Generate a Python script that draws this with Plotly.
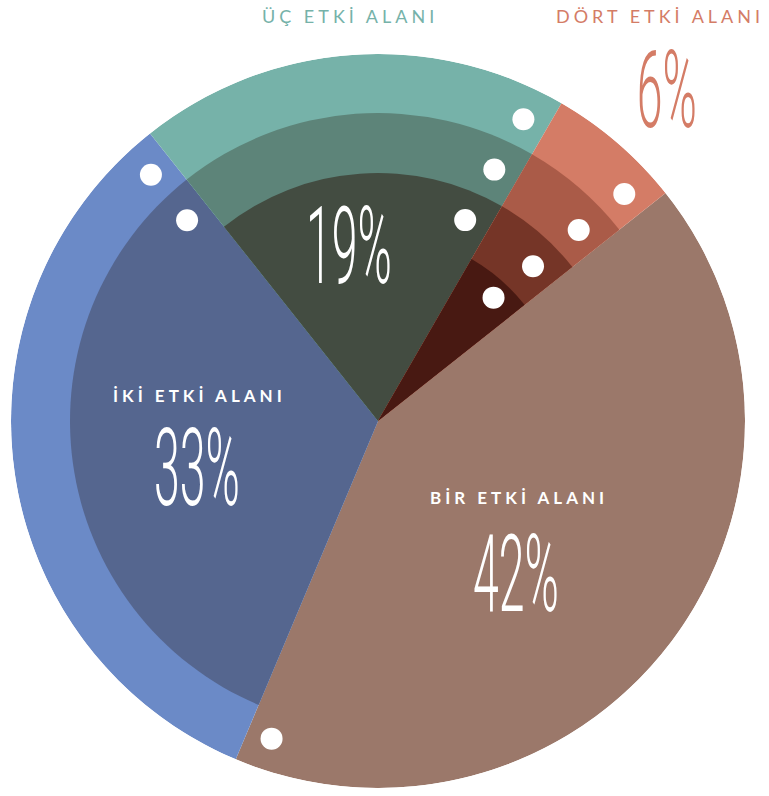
import math
import plotly.graph_objects as go

# ---- data ----
categories = ["BİR ETKİ ALANI", "İKİ ETKİ ALANI", "ÜÇ ETKİ ALANI", "DÖRT ETKİ ALANI"]
percent = [42, 33, 19, 6]
area_counts = [1, 2, 3, 4]
pct_labels = ["42%", "33%", "19%", "6%"]

# ---- style ----
layer_colors = [
    ["#9b786a"],
    ["#6b8ac7", "#55668f"],
    ["#76b2a9", "#5d8479", "#434c41"],
    ["#d47c66", "#aa5b48", "#753527", "#481912"],
]
LAYER_R = [367, 308, 248, 187]
DOT_OFFSET = [32, 31, 29, 18]
DOT_INSET_PX = 25
START_ANGLE = 51.6
W, H = 769, 796
CX, CY, R = 378, 421, 367

fig = go.Figure()
dot_r, dot_t = [], []
start = START_ANGLE
for i, (cat, p, n) in enumerate(zip(categories, percent, area_counts)):
    width = p * 3.6
    center = start + width / 2
    end = start + width
    for k in range(n):
        fig.add_trace(go.Barpolar(
            r=[LAYER_R[k]], theta=[center], width=[width],
            marker=dict(color=layer_colors[i][k], line=dict(width=0)),
            hoverinfo="skip", showlegend=False, name=cat))
        rd = LAYER_R[k] - DOT_OFFSET[k]
        dot_r.append(rd)
        dot_t.append(end - math.degrees(DOT_INSET_PX / rd))
    start = end

fig.add_trace(go.Scatterpolar(
    r=dot_r, theta=dot_t, mode="markers",
    marker=dict(size=22, color="white", line=dict(width=0)),
    hoverinfo="skip", showlegend=False))

def px(x):
    return x / W

def py(y):
    return 1 - y / H

label_font = "Lato, Open Sans, sans-serif"
num_font = dict(family="Roboto, sans-serif", size=108, color="white", weight=300)

annotations = [
    # top labels
    dict(x=px(350), y=py(16), text=categories[2],
         font=dict(family=label_font, size=18, color="#76b2a9")),
    dict(x=px(660), y=py(16), text=categories[3],
         font=dict(family=label_font, size=18, color="#d47c66")),
    dict(x=px(667), y=py(90), text=pct_labels[3],
         font=dict(num_font, color="#d47c66")),
    # inner labels
    dict(x=px(199), y=py(395), text=categories[1],
         font=dict(family=label_font, size=17, color="white", weight=700)),
    dict(x=px(197), y=py(468), text=pct_labels[1], font=num_font),
    dict(x=px(519), y=py(497), text=categories[0],
         font=dict(family=label_font, size=17, color="white", weight=700)),
    dict(x=px(516), y=py(574), text=pct_labels[0], font=num_font),
    dict(x=px(349), y=py(246), text=pct_labels[2], font=num_font),
]
for a in annotations:
    a.update(xref="paper", yref="paper", showarrow=False,
             xanchor="center", yanchor="middle")

fig.update_layout(
    width=W, height=H,
    margin=dict(l=0, r=0, t=0, b=0),
    paper_bgcolor="white", plot_bgcolor="white",
    showlegend=False,
    annotations=annotations,
    polar=dict(
        domain=dict(x=[(CX - R) / W, (CX + R) / W],
                    y=[(H - CY - R) / H, (H - CY + R) / H]),
        bgcolor="rgba(0,0,0,0)",
        barmode="overlay", bargap=0, hole=0,
        radialaxis=dict(visible=False, range=[0, R]),
        angularaxis=dict(visible=False, rotation=90, direction="clockwise"),
    ),
)

post = """
document.body.style.margin = '0';
var gd = document.getElementById('{plot_id}');
gd.querySelectorAll('text.annotation-text').forEach(function(t){
  var s = t.textContent;
  if (/%$/.test(s)) {
    var b = t.getBBox();
    var cx = b.x + b.width / 2, cy = b.y + b.height / 2;
    t.setAttribute('transform', 'translate(' + cx + ',' + cy + ') scale(0.43,1) translate(' + (-cx) + ',' + (-cy) + ')');
  } else {
    t.style.letterSpacing = '4px';
  }
});
"""

fig.write_html("out.html", post_script=post, config={"displayModeBar": False})
